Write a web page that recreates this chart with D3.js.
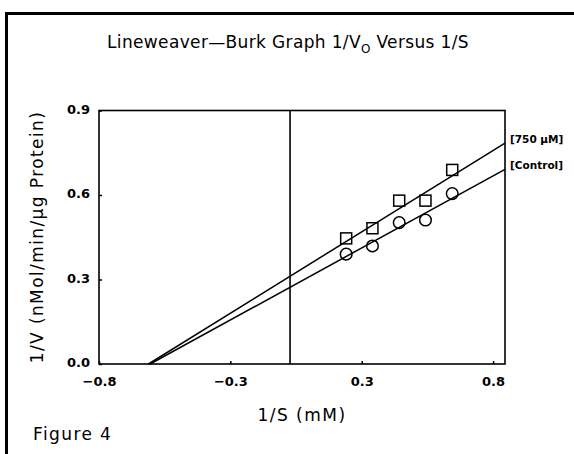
<!DOCTYPE html>
<html><head><meta charset="utf-8">
<script src="https://cdn.jsdelivr.net/npm/d3@7"></script>
<style>
html,body{margin:0;padding:0;background:#fff;}
text{font-family:"DejaVu Sans",sans-serif;fill:#000;}
</style></head>
<body>
<svg id="c" width="574" height="454"></svg>
<script>
// ---- data ----
const invS = [0.235, 0.345, 0.457, 0.567, 0.679];
const inhibitorV = [0.446, 0.482, 0.580, 0.580, 0.689];   // [750 µM]
const controlV   = [0.390, 0.419, 0.502, 0.511, 0.605];   // [Control]
const seriesNames = ["[750 \u00B5M]", "[Control]"];
const fitIntercept = [0.3115, 0.2725];
const fitSlope     = [0.5256, 0.465];
const xTickValues = [-0.8, -0.25, 0.3, 0.85];
const xTickLabels = ["\u22120.8", "\u22120.3", "0.3", "0.8"];
const yTickValues = [0.0, 0.3, 0.6, 0.9];
const yTickLabels = ["0.0", "0.3", "0.6", "0.9"];
const xDomain = [-0.8, 0.9];
const yDomain = [0, 0.9];

const svg = d3.select("#c");
const L = 99, R = 505, T = 110.5, B = 364;
const x = d3.scaleLinear().domain(xDomain).range([L, R]);
const y = d3.scaleLinear().domain(yDomain).range([B, T]);

// outer figure border (top + left)
svg.append("path").attr("d", `M6.5,454 L6.5,13.5 L574,13.5`)
  .attr("fill", "none").attr("stroke", "#000").attr("stroke-width", 3);

// title
const title = svg.append("text").attr("x", 288).attr("y", 48)
  .attr("text-anchor", "middle").attr("font-size", 17).attr("letter-spacing", 0.35);
title.append("tspan").text("Lineweaver\u2014Burk Graph 1/V");
title.append("tspan").attr("dy", 5).attr("font-size", 12).text("O");
title.append("tspan").attr("dy", -5).text(" Versus 1/S");

// plot frame
svg.append("rect").attr("x", L).attr("y", T).attr("width", R - L).attr("height", B - T)
  .attr("fill", "none").attr("stroke", "#000").attr("stroke-width", 1.6);

// axes
const xAxis = d3.axisBottom(x).tickValues(xTickValues)
  .tickFormat((d, i) => xTickLabels[i]).tickSize(-3).tickPadding(10);
const gx = svg.append("g").attr("transform", `translate(0,${B})`).call(xAxis);
const yAxis = d3.axisLeft(y).tickValues(yTickValues)
  .tickFormat((d, i) => yTickLabels[i]).tickSize(-3).tickPadding(9);
const gy = svg.append("g").attr("transform", `translate(${L},0)`).call(yAxis);
[gx, gy].forEach(g => {
  g.select(".domain").remove();
  g.selectAll(".tick line").attr("stroke", "#000").attr("stroke-width", 1.5);
  g.selectAll(".tick text").attr("font-size", 13).attr("font-weight", "bold")
    .attr("font-family", "DejaVu Sans, sans-serif");
});
gx.selectAll(".tick text").attr("dy", "0.9em");
gy.selectAll(".tick text").attr("dy", "0.2em");

// vertical axis at x = 0
svg.append("line").attr("x1", x(0)).attr("x2", x(0)).attr("y1", y(yDomain[0])).attr("y2", y(yDomain[1]))
  .attr("stroke", "#000").attr("stroke-width", 1.6);

// fitted lines
fitIntercept.forEach((b, i) => {
  const m = fitSlope[i];
  const x0 = -b / m, x1 = xDomain[1];
  svg.append("line").attr("x1", x(x0)).attr("y1", y(0)).attr("x2", x(x1)).attr("y2", y(b + m * x1))
    .attr("stroke", "#000").attr("stroke-width", 1.5);
  svg.append("text").attr("x", x(x1) + 5).attr("y", y(b + m * x1) - 4)
    .attr("dominant-baseline", "central").attr("font-size", 10.5).attr("font-weight", "bold")
    .text(seriesNames[i]);
});

// markers
const sq = 11;
svg.append("g").selectAll("rect").data(invS).join("rect")
  .attr("x", (d) => x(d) - sq / 2).attr("y", (d, i) => y(inhibitorV[i]) - sq / 2)
  .attr("width", sq).attr("height", sq)
  .attr("fill", "none").attr("stroke", "#000").attr("stroke-width", 1.5);
svg.append("g").selectAll("circle").data(invS).join("circle")
  .attr("cx", (d) => x(d)).attr("cy", (d, i) => y(controlV[i])).attr("r", 5.8)
  .attr("fill", "none").attr("stroke", "#000").attr("stroke-width", 1.5);

// axis titles
svg.append("text").attr("x", 302).attr("y", 421).attr("text-anchor", "middle")
  .attr("font-size", 17).attr("letter-spacing", 1.5).text("1/S (mM)");
svg.append("text").attr("transform", "translate(43,237) rotate(-90)")
  .attr("text-anchor", "middle").attr("font-size", 17).attr("letter-spacing", 1.4)
  .text("1/V (nMol/min/\u00B5g Protein)");

// figure caption
svg.append("text").attr("x", 33).attr("y", 440).attr("font-size", 17)
  .attr("letter-spacing", 1.4).text("Figure 4");
</script>
</body></html>
